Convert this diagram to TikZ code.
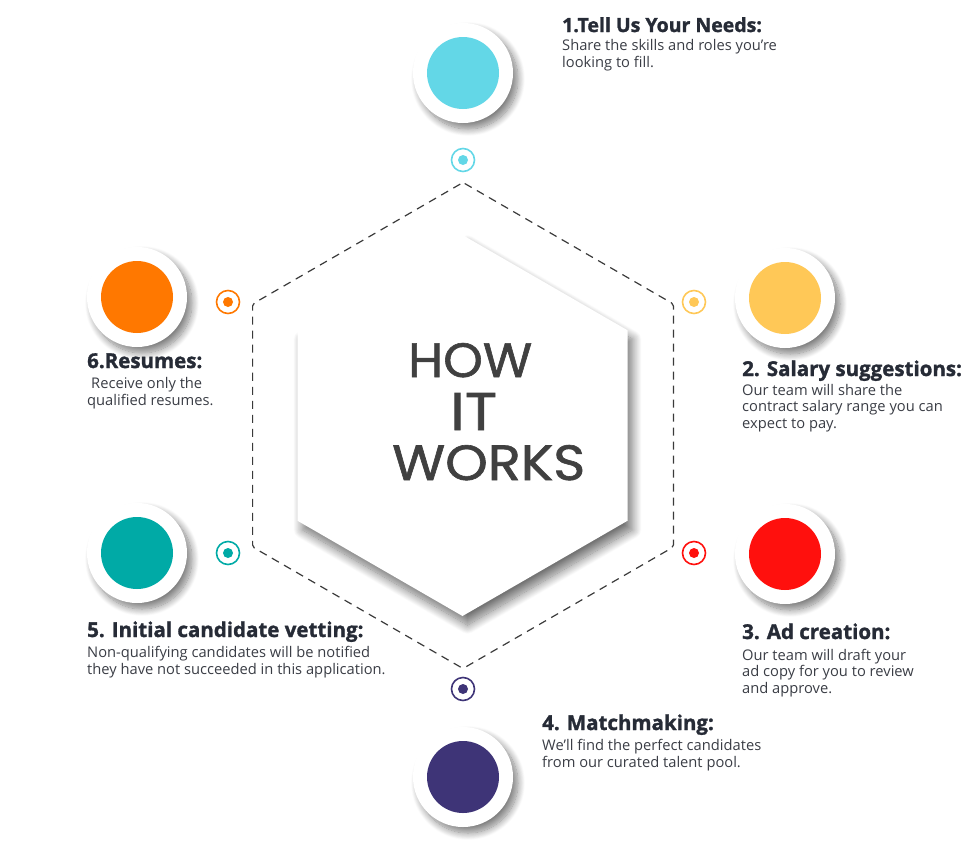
\documentclass[tikz,border=0pt]{standalone}
\usepackage{fontspec}
\setmainfont{Open Sans}
\newfontfamily\hiwfont[FakeBold=1.2]{Poppins}
\usetikzlibrary{shadows.blur,calc}
\definecolor{cCyan}{HTML}{63D7E7}
\definecolor{cYellow}{HTML}{FFC857}
\definecolor{cRed}{HTML}{FF100D}
\definecolor{cPurple}{HTML}{3E3477}
\definecolor{cTeal}{HTML}{00AAA6}
\definecolor{cOrange}{HTML}{FF7800}
\definecolor{headc}{HTML}{262B36}
\definecolor{bodyc}{HTML}{3A3D45}
\definecolor{hexline}{HTML}{3A3A3A}
\definecolor{hiwc}{HTML}{404040}
\begin{document}
\begin{tikzpicture}[x=1pt,y=-1pt,
  outerdisc/.style={circle, fill=white, minimum size=100pt, inner sep=0pt,
    blur shadow={shadow xshift=5pt, shadow yshift=-6pt, shadow blur radius=7pt, shadow blur steps=12, shadow opacity=50}},
  innerdisc/.style={circle, fill=#1, minimum size=72pt, inner sep=0pt},
  ring/.style={circle, draw=#1, line width=1.6pt, minimum size=23pt, inner sep=0pt},
  dot/.style={circle, fill=#1, minimum size=10pt, inner sep=0pt},
  head/.style={anchor=base west, inner sep=0pt, text=headc, font=\fontsize{20.5}{22}\selectfont\bfseries\addfontfeature{FakeBold=1.4}},
  body/.style={anchor=base west, inner sep=0pt, text=bodyc, align=left, font=\fontsize{14.7}{16.5}\selectfont},
  hiw/.style={anchor=base west, inner sep=0pt, text=hiwc, font=\fontsize{46}{50}\hiwfont},
  dashhex/.style={draw=hexline, line width=1.2pt, dash pattern=on 8pt off 6pt, rounded corners=2pt},
  whitehex/.style={fill=white, blur shadow={shadow xshift=5pt, shadow yshift=-9pt, shadow blur radius=9pt, shadow blur steps=16, shadow opacity=55}}
]
\useasboundingbox (0,0) rectangle (961,860);

% hexagons
\coordinate (hc) at (463,425.5);
\path[dashhex] ($(hc)+(0,-243)$) -- ++(210.4,121.5) -- ++(0,243) -- ++(-210.4,121.5) -- ++(-210.4,-121.5) -- ++(0,-243) -- cycle;
\path[whitehex] ($(hc)+(-0.5,-190.5)$) -- ++(165,95.25) -- ++(0,190.5) -- ++(-165,95.25) -- ++(-165,-95.25) -- ++(0,-190.5) -- cycle;

% center title
\node[hiw] (how) at (408,377) {\resizebox{124pt}{34pt}{HOW}};
\node[hiw] (it) at (450,430) {\resizebox{47pt}{37pt}{IT}};
\node[hiw] (works) at (392,480) {\resizebox{193pt}{35pt}{WORKS}};

% discs
\node[outerdisc] (o1) at (463,73) {}; \node[innerdisc=cCyan] (i1) at (o1) {};
\node[outerdisc] (o2) at (785,298) {}; \node[innerdisc=cYellow] (i2) at (o2) {};
\node[outerdisc] (o3) at (785,554) {}; \node[innerdisc=cRed] (i3) at (o3) {};
\node[outerdisc] (o4) at (463,777) {}; \node[innerdisc=cPurple] (i4) at (o4) {};
\node[outerdisc] (o5) at (137,553) {}; \node[innerdisc=cTeal] (i5) at (o5) {};
\node[outerdisc] (o6) at (137,297) {}; \node[innerdisc=cOrange] (i6) at (o6) {};

% targets
\node[ring=cCyan] (r1) at (463,160) {}; \node[dot=cCyan] (d1) at (r1) {};
\node[ring=cYellow] (r2) at (694,302) {}; \node[dot=cYellow] (d2) at (r2) {};
\node[ring=cRed] (r3) at (694,553) {}; \node[dot=cRed] (d3) at (r3) {};
\node[ring=cPurple] (r4) at (463,689) {}; \node[dot=cPurple] (d4) at (r4) {};
\node[ring=cTeal] (r5) at (228,553) {}; \node[dot=cTeal] (d5) at (r5) {};
\node[ring=cOrange] (r6) at (228,302) {}; \node[dot=cOrange] (d6) at (r6) {};

% texts (body nodes anchored at the baseline of their last line)
\node[head, font=\fontsize{19.5}{22}\selectfont\bfseries\addfontfeature{FakeBold=1.4}] (h1) at (562,32) {1.Tell Us Your Needs:};
\node[body] (b1) at (562,67) {Share the skills and roles you’re\\looking to fill.};
\node[head] (h2) at (742,376) {2. Salary suggestions:};
\node[body] (b2) at (742,428) {Our team will share the\\contract salary range you can\\expect to pay.};
\node[head] (h3) at (742,639) {3. Ad creation:};
\node[body] (b3) at (742,693) {Our team will draft your\\ad copy for you to review\\and approve.};
\node[head] (h4) at (542,730) {4. Matchmaking:};
\node[body] (b4) at (542,767) {We’ll find the perfect candidates\\from our curated talent pool.};
\node[head] (h5) at (87,637) {5. Initial candidate vetting:};
\node[body] (b5) at (87,674) {Non-qualifying candidates will be notified\\they have not succeeded in this application.};
\node[head] (h6) at (87,368) {6.Resumes:};
\node[body] (b6) at (87,405) {\hspace{4pt}Receive only the\\qualified resumes.};
\end{tikzpicture}
\end{document}
